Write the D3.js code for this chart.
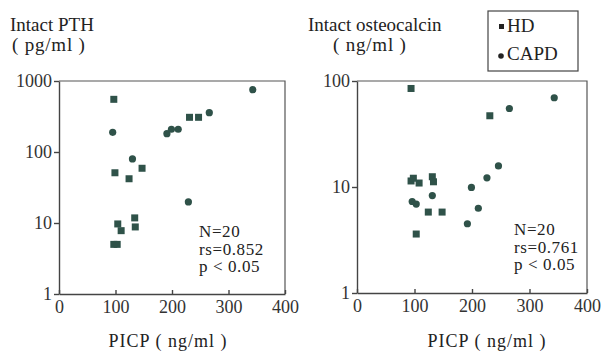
<!DOCTYPE html>
<html>
<head>
<meta charset="utf-8">
<script src="https://cdn.jsdelivr.net/npm/d3@7"></script>
<style>
  body { margin: 0; background: #fff; }
  svg text { font-family: "Liberation Serif", "Times New Roman", "DejaVu Serif", serif; fill: #222; }
  .axis path, .axis line { stroke: #444; stroke-width: 1.4; }
  .axis text { font-size: 18px; fill: #333; }
</style>
</head>
<body>
<svg id="chart" width="601" height="353"></svg>
<script>
// PTH panel
var pthHD = [
    [97, 552], [231, 308], [247, 308], [99, 51], [124, 42], [147, 59],
    [104, 9.7], [110, 7.8], [134, 11.8], [135, 8.8], [97, 5], [103, 5]
];
var pthCAPD = [
    [343, 754], [266, 358], [95, 189], [191, 181], [199, 209], [211, 209],
    [130, 80], [229, 19.8]
];

// osteocalcin panel
var ocHD = [
    [94, 85], [231, 47], [94, 11.4], [98, 12.1], [108, 10.9], [131, 12.5],
    [133, 11.2], [124, 5.8], [148, 5.8], [103, 3.6]
];
var ocCAPD = [
    [343, 69.5], [265, 55], [246, 15.8], [226, 12.2], [199, 9.9], [211, 6.3],
    [192, 4.5], [96, 7.3], [103, 6.9], [131, 8.3]
];

var xTicks = [0, 100, 200, 300, 400];
var pthTicks = [1, 10, 100, 1000];
var ocTicks = [1, 10, 100];

var svg = d3.select('#chart');
var ink = '#2f5249';

function panel(opts) {
    var x = d3.scaleLinear().domain([0, 400]).range([opts.left, opts.right]);
    var y = d3.scaleLog().domain(opts.yDomain).range([opts.bottom, opts.top]);
    var g = svg.append('g');

    // frame (top and right)
    g.append('path')
        .attr('d', 'M' + opts.left + ',' + opts.top + 'H' + opts.right + 'V' + opts.bottom)
        .attr('fill', 'none')
        .attr('stroke', '#555')
        .attr('stroke-width', 1.2);

    g.append('g')
        .attr('class', 'axis')
        .attr('transform', 'translate(0,' + opts.bottom + ')')
        .call(d3.axisBottom(x).tickValues(xTicks).tickSizeInner(-4).tickSizeOuter(0).tickPadding(5))
        .call(s => s.selectAll('.tick text').attr('dy', '0.75em'))
        .call(s => s.attr('font-family', null).attr('font-size', null));

    g.append('g')
        .attr('class', 'axis')
        .attr('transform', 'translate(' + opts.left + ',0)')
        .call(d3.axisLeft(y).tickValues(opts.yTicks).tickFormat(d3.format('d')).tickSizeInner(5).tickSizeOuter(0).tickPadding(2))
        .call(s => s.attr('font-family', null).attr('font-size', null));

    g.selectAll('rect.hd')
        .data(opts.hd)
        .enter().append('rect')
        .attr('class', 'hd')
        .attr('x', d => x(d[0]) - 3.5)
        .attr('y', d => y(d[1]) - 3.5)
        .attr('width', 7)
        .attr('height', 7)
        .attr('fill', ink);

    g.selectAll('circle.capd')
        .data(opts.capd)
        .enter().append('circle')
        .attr('class', 'capd')
        .attr('cx', d => x(d[0]))
        .attr('cy', d => y(d[1]))
        .attr('r', 3.6)
        .attr('fill', ink);

    g.append('text')
        .attr('x', opts.titleX)
        .attr('y', 31)
        .attr('font-size', 19)
        .text(opts.title);
    g.append('text')
        .attr('x', opts.unitX)
        .attr('y', 51)
        .attr('font-size', 19)
        .attr('letter-spacing', 0.8)
        .text(opts.unit);

    g.append('text')
        .attr('x', opts.xTitleX)
        .attr('y', 347)
        .attr('text-anchor', 'middle')
        .attr('font-size', 18)
        .attr('letter-spacing', 1)
        .text('PICP ( ng/ml )');

    var stats = g.append('text')
        .attr('x', opts.statX)
        .attr('y', opts.statY)
        .attr('font-size', 17)
        .attr('letter-spacing', 0.6);
    opts.stats.forEach(function (t, i) {
        stats.append('tspan').attr('x', opts.statX).attr('dy', i ? 17.5 : 0).text(t);
    });
}

panel({
    left: 59, right: 285, top: 81, bottom: 294,
    yDomain: [1, 1000], yTicks: pthTicks,
    hd: pthHD, capd: pthCAPD,
    title: 'Intact PTH', titleX: 10,
    unit: '( pg/ml )', unitX: 12,
    xTitleX: 168,
    statX: 199, statY: 237,
    stats: ['N=20', 'rs=0.852', 'p < 0.05']
});

panel({
    left: 357, right: 587, top: 81, bottom: 293,
    yDomain: [1, 100], yTicks: ocTicks,
    hd: ocHD, capd: ocCAPD,
    title: 'Intact osteocalcin', titleX: 308,
    unit: '( ng/ml )', unitX: 333,
    xTitleX: 487,
    statX: 514, statY: 235,
    stats: ['N=20', 'rs=0.761', 'p < 0.05']
});

// legend
var legend = svg.append('g');
legend.append('rect')
    .attr('x', 488).attr('y', 11).attr('width', 90).attr('height', 60)
    .attr('fill', 'none').attr('stroke', '#444').attr('stroke-width', 1.2);
legend.append('rect')
    .attr('x', 499).attr('y', 24).attr('width', 5).attr('height', 5).attr('fill', '#222');
legend.append('circle')
    .attr('cx', 501).attr('cy', 56).attr('r', 2.8).attr('fill', '#222');
legend.append('text').attr('x', 507).attr('y', 32).attr('font-size', 19).text('HD');
legend.append('text').attr('x', 507).attr('y', 60).attr('font-size', 19).text('CAPD');
</script>
</body>
</html>
